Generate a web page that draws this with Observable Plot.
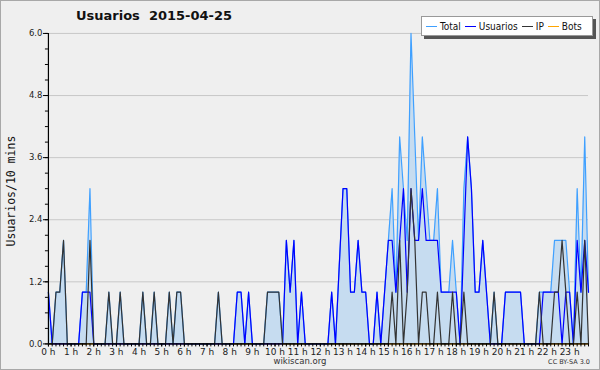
<!DOCTYPE html>
<html>
<head>
<meta charset="utf-8">
<script src="https://cdn.jsdelivr.net/npm/d3@7"></script>
<script src="https://cdn.jsdelivr.net/npm/@observablehq/plot@0.6"></script>
<style>
  html, body { margin: 0; padding: 0; background: #efefef; }
  #wrap { position: relative; width: 598px; height: 368px; border: 1px solid #a8a8a8; background: #efefef; overflow: hidden; font-family: "DejaVu Sans", sans-serif; }
  #chart { position: absolute; left: -1px; top: -1px; }
  .title { position: absolute; left: 75px; top: 7px; font-size: 13px; font-weight: bold; color: #111; white-space: pre; }
  .ylab { position: absolute; left: 10px; top: 190px; transform: translate(-50%, -50%) rotate(-90deg); font-family: "DejaVu Sans Mono", monospace; font-size: 11.5px; color: #111; white-space: nowrap; }
  .legend { position: absolute; left: 420px; top: 15px; width: 166px; height: 18px; background: #fff; border: 1px solid #999; box-shadow: 3px 3px 0 #555; font-family: "DejaVu Sans Condensed", "DejaVu Sans", sans-serif; font-stretch: condensed; font-size: 10px; color: #111; display: flex; align-items: center; padding-left: 4px; white-space: nowrap; }
  .legend span.item { display: inline-flex; align-items: center; margin-right: 4px; }
  .legend i { display: inline-block; width: 11px; height: 0; border-top: 1.3px solid; margin-right: 3px; }
  .foot { position: absolute; left: 0; width: 598px; top: 355px; text-align: center; font-size: 8.5px; color: #333; }
  .cc { position: absolute; right: 9px; top: 357px; font-size: 6.5px; color: #333; }
</style>
</head>
<body>
<div id="wrap">
  <div id="chart"></div>
  <div class="title">Usuarios  2015-04-25</div>
  <div class="ylab">Usuarios/10 mins</div>
  <div class="legend">
    <span class="item"><i style="border-color:#3fa0ff"></i>Total</span>
    <span class="item"><i style="border-color:#0000ff"></i>Usuarios</span>
    <span class="item"><i style="border-color:#333"></i>IP</span>
    <span class="item"><i style="border-color:#ffa500"></i>Bots</span>
  </div>
  <div class="foot">wikiscan.org</div>
  <div class="cc">CC BY-SA 3.0</div>
</div>
<script>
// 10-minute slots, 144 per day
const hourLabels = ["0 h","1 h","2 h","3 h","4 h","5 h","6 h","7 h","8 h","9 h","10 h","11 h","12 h","13 h","14 h","15 h","16 h","17 h","18 h","19 h","20 h","21 h","22 h","23 h"];
const yTicks = [0, 1.2, 2.4, 3.6, 4.8, 6.0];

const usuarios = [
  1,0,0,0,0,0,0,0,0,1,1,1,
  0,0,0,0,0,0,0,0,0,0,0,0,
  0,0,0,0,0,0,0,0,0,0,0,0,
  0,0,0,0,0,0,0,0,0,0,0,0,
  0,0,1,1,0,1,0,0,0,0,0,0,
  0,0,0,2,1,2,0,1,0,0,0,0,
  0,0,0,1,0,1.5,3,3,1,1,2,1,
  1,0,0,1,0,1,2,2,1,2,3,1,
  3,2,2,3,2,2,2,2,1,1,1,1,
  1,0,2,4,3,1,1,2,1,0,0,0,
  0,1,1,1,1,1,0,0,0,0,0,1,
  1,1,1,1,0,1,1,0,2,1,2,1
];
const ip = [
  0,0,1,1,2,0,0,0,0,0,0,2,
  0,0,0,0,1,0,0,1,0,0,0,0,
  0,1,0,0,1,0,0,0,1,0,1,1,
  0,0,0,0,0,0,0,0,0,1,0,0,
  0,0,0,0,0,0,0,0,0,0,1,1,
  1,1,0,0,0,0,0,0,0,0,0,0,
  0,0,0,0,0,0,0,0,0,0,0,0,
  0,0,0,0,0,0,0,1,0,2,0,1,
  3,2,0,1,1,0,0,1,0,0,0,1,
  0,0,1,0,0,0,0,0,0,0,1,0,
  0,0,0,0,0,0,0,0,0,0,1,0,
  0,0,1,1,2,1,0,0,1,0,2,0
];
const total = [
  1,0,1,1,2,0,0,0,0,1,1,3,
  0,0,0,0,1,0,0,1,0,0,0,0,
  0,1,0,0,1,0,0,0,1,0,1,1,
  0,0,0,0,0,0,0,0,0,1,0,0,
  0,0,1,1,0,1,0,0,0,0,1,1,
  1,1,0,2,1,2,0,1,0,0,0,0,
  0,0,0,1,0,1.5,3,3,1,1,2,1,
  1,0,0,1,0,1,2,3,1,4,3,2,
  6,4,2,4,3,2,2,3,1,1,1,2,
  1,0,3,4,3,1,1,2,1,0,1,0,
  0,1,1,1,1,1,0,0,0,0,1,1,
  1,1,2,2,2,2,1,0,3,1,4,1
];
const bots = [
  0,0,0,0,0,0,0,0,0,0,0,0, 0,0,0,0,0,0,0,0,0,0,0,0,
  0,0,0,0,0,0,0,0,0,0,0,0, 0,0,0,0,0,0,0,0,0,0,0,0,
  0,0,0,0,0,0,0,0,0,0,0,0, 0,0,0,0,0,0,0,0,0,0,0,0,
  0,0,0,0,0,0,0,0,0,0,0,0, 0,0,0,0,0,0,0,0,0,0,0,0,
  0,0,0,0,0,0,0,0,0,0,0,0, 0,0,0,0,0,0,0,0,0,0,0,0,
  0,0,0,0,0,0,0,0,0,0,0,0, 0,0,0,0,0,0,0,0,0,0,0,0
];

const rows = total.map((t, i) => ({i, total: t, usuarios: usuarios[i], ip: ip[i], bots: bots[i]}));
const slots = rows.map(d => d.i);
const hourSlots = hourLabels.map((_, h) => h * 6);
const minorY = d3.range(0, 6.001, 0.3);

const chart = Plot.plot({
  width: 600,
  height: 370,
  marginLeft: 48,
  marginRight: 11,
  marginTop: 33,
  marginBottom: 26,
  style: {background: "transparent", fontFamily: "DejaVu Sans, sans-serif", fontSize: "8.5px", color: "#222"},
  x: {domain: [0, 143]},
  y: {domain: [0, 6]},
  marks: [
    Plot.gridY(yTicks, {stroke: "#c8c8c8", strokeOpacity: 1, strokeWidth: 1}),
    Plot.areaY(rows, {x: "i", y: "total", fill: "#c6dcf0"}),
    Plot.lineY(rows, {x: "i", y: "bots", stroke: "#ffa500", strokeWidth: 1.2}),
    Plot.lineY(rows, {x: "i", y: "total", stroke: "#3fa0ff", strokeWidth: 1.2}),
    Plot.lineY(rows, {x: "i", y: "usuarios", stroke: "#0000ff", strokeWidth: 1.2}),
    Plot.lineY(rows, {x: "i", y: "ip", stroke: "#333", strokeWidth: 1.2}),
    Plot.axisY(minorY, {tickSize: 3, tickFormat: () => "", label: null, stroke: "#000"}),
    Plot.axisY(yTicks, {tickSize: 5, tickPadding: 1, tickFormat: d3.format(".1f"), label: null, stroke: "#000", fontSize: 8.5}),
    Plot.axisX(slots, {tickSize: 3, tickFormat: () => "", label: null, stroke: "#000"}),
    Plot.axisX(hourSlots, {tickSize: 3, tickPadding: 2, tickFormat: d => hourLabels[d / 6], label: null, stroke: "#000", fontSize: 9}),
    Plot.ruleX([0], {stroke: "#000", strokeWidth: 1.2}),
    Plot.ruleY([0], {stroke: "#000", strokeWidth: 1.2})
  ]
});
document.getElementById("chart").appendChild(chart);
</script>
</body>
</html>
